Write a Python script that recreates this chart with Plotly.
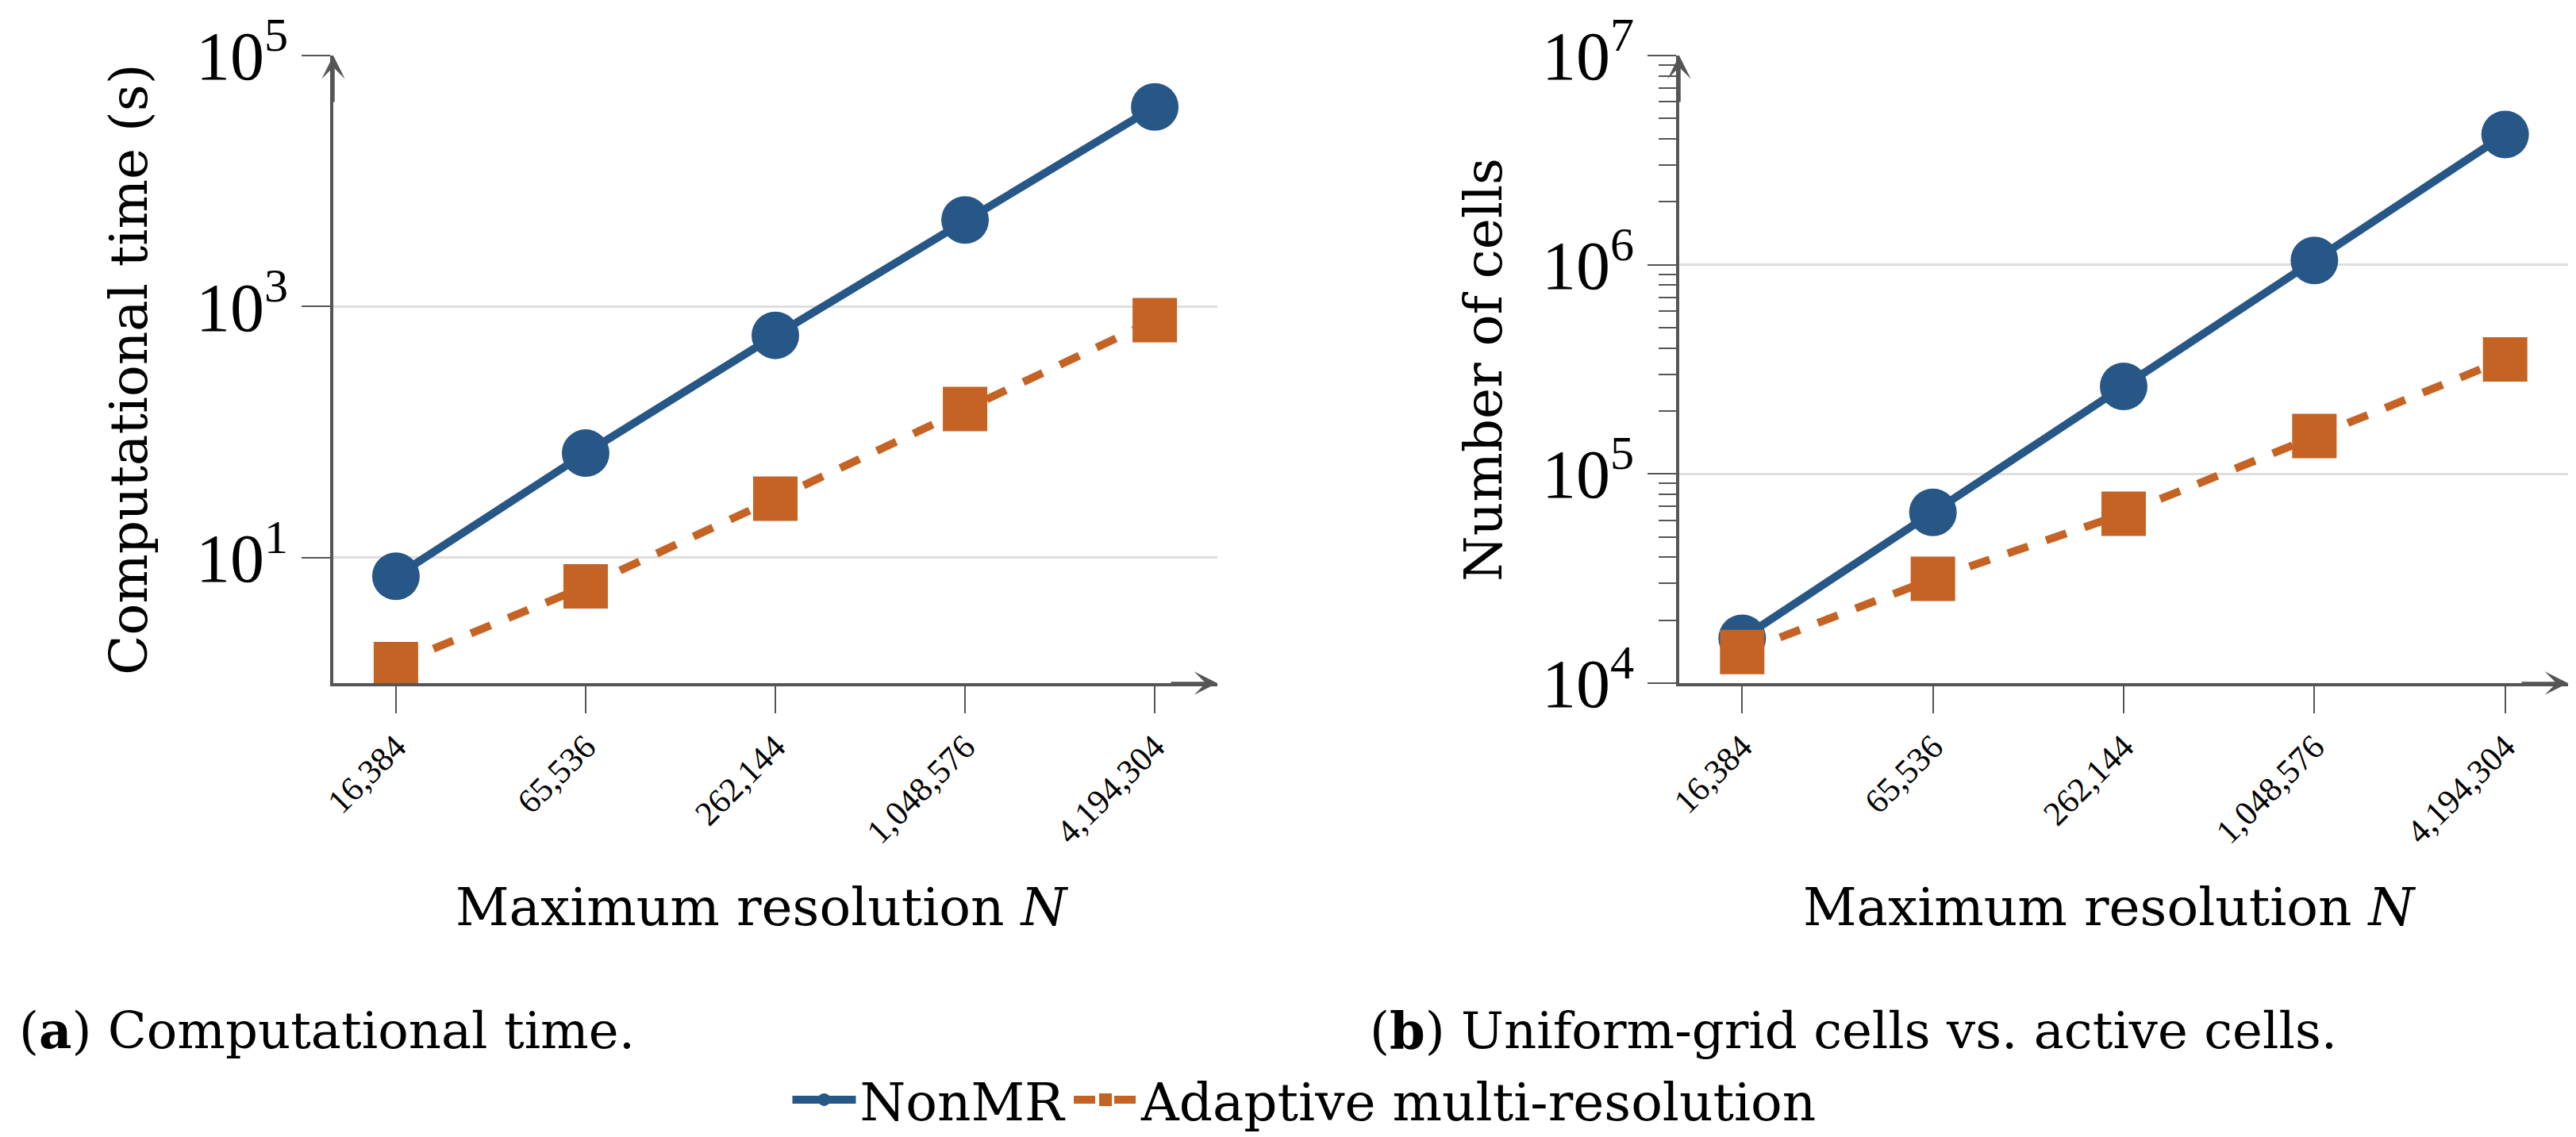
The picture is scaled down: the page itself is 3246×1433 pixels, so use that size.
import plotly.graph_objects as go

# ---------------- data ----------------
N_LABELS = ["16,384", "65,536", "262,144", "1,048,576", "4,194,304"]
TIME_NONMR = [7.1, 68, 590, 4900, 39000]
TIME_ADAPTIVE = [1.42, 5.9, 29.5, 153, 780]
CELLS_NONMR = [16384, 65536, 262144, 1048576, 4194304]
CELLS_ADAPTIVE = [14100, 31500, 64500, 152000, 353000]
SERIES_NAMES = ["NonMR", "Adaptive multi-resolution"]
TIME_TICKVALS = [10, 1000, 100000]
TIME_TICKTEXT = ["10<sup>1</sup>", "10<sup>3</sup>", "10<sup>5</sup>"]
CELLS_TICKVALS = [1e4, 1e5, 1e6, 1e7]
CELLS_TICKTEXT = ["10<sup>4</sup>", "10<sup>5</sup>", "10<sup>6</sup>", "10<sup>7</sup>"]

# ---------------- style ----------------
BLUE = "#275787"
ORANGE = "#C46323"
AXIS = "#555555"
GRID = "#DEDEDE"
TEXT_FONT = "DejaVu Serif"
NUM_FONT = "Liberation Serif"
W, H = 3246, 1433

fig = go.Figure()


def add_series(xa, ya, y_nonmr, y_adapt, show):
    fig.add_trace(go.Scatter(
        x=N_LABELS, y=y_nonmr, name=SERIES_NAMES[0], xaxis=xa, yaxis=ya,
        mode="lines+markers", showlegend=show, legendgroup="a",
        line=dict(color=BLUE, width=10),
        marker=dict(symbol="circle", size=60, color=BLUE),
    ))
    fig.add_trace(go.Scatter(
        x=N_LABELS, y=y_adapt, name=SERIES_NAMES[1], xaxis=xa, yaxis=ya,
        mode="lines+markers", showlegend=show, legendgroup="b",
        line=dict(color=ORANGE, width=10, dash="27px,24px"),
        marker=dict(symbol="square", size=56, color=ORANGE),
    ))


add_series("x", "y", TIME_NONMR, TIME_ADAPTIVE, True)
add_series("x2", "y2", CELLS_NONMR, CELLS_ADAPTIVE, False)

xcommon = dict(
    type="category", categoryorder="array", categoryarray=N_LABELS,
    range=[-0.33, 4.33], showline=True, linecolor=AXIS, linewidth=3.5,
    ticks="outside", ticklen=34, tickwidth=2, tickcolor=AXIS,
    tickangle=-45, tickfont=dict(family=NUM_FONT, size=43, color="black"),
    showgrid=False, zeroline=False, automargin=False,
)
ycommon = dict(
    type="log", showline=True, linecolor=AXIS, linewidth=3.5,
    ticks="outside", ticklen=36, tickwidth=2, tickcolor=AXIS,
    tickmode="array",
    tickfont=dict(family=NUM_FONT, size=86, color="black"),
    showgrid=True, gridcolor=GRID, gridwidth=2.5, zeroline=False,
    automargin=False,
)

ybot = 1 - 853 / H
ytop = 1 - 62 / H

fig.update_layout(
    width=W, height=H,
    margin=dict(l=0, r=0, t=0, b=0),
    paper_bgcolor="white", plot_bgcolor="white",
    font=dict(family=TEXT_FONT, color="black"),
    xaxis=dict(domain=[412 / W, 1526 / W], anchor="y", **xcommon),
    xaxis2=dict(domain=[2108 / W, 3228 / W], anchor="y2", **xcommon),
    yaxis=dict(domain=[ybot, ytop], anchor="x", range=[0, 5],
               tickvals=TIME_TICKVALS, ticktext=TIME_TICKTEXT, **ycommon),
    yaxis2=dict(domain=[ybot, ytop], anchor="x2", range=[4, 7],
                tickvals=CELLS_TICKVALS, ticktext=CELLS_TICKTEXT,
                minor=dict(ticks="outside", ticklen=22, tickwidth=2, tickcolor=AXIS,
                           dtick="D1", showgrid=False),
                **ycommon),
    legend=dict(
        orientation="h", x=0.504, y=1 - 1378 / H, xanchor="center", yanchor="middle",
        font=dict(family=TEXT_FONT, size=66, color="black"),
        itemsizing="trace", itemwidth=80, bgcolor="rgba(0,0,0,0)",
    ),
)

annotations = []
# axis arrows
for xr, yr in (("x", "y"), ("x2", "y2")):
    annotations.append(dict(
        xref=f"{xr} domain", yref=f"{yr} domain", x=1, y=0, ax=-60, ay=0,
        axref="pixel", ayref="pixel", text="", showarrow=True,
        arrowhead=3, arrowsize=1.4, arrowwidth=3.5, arrowcolor=AXIS,
    ))
    annotations.append(dict(
        xref=f"{xr} domain", yref=f"{yr} domain", x=0, y=1, ax=0, ay=60,
        axref="pixel", ayref="pixel", text="", showarrow=True,
        arrowhead=3, arrowsize=1.4, arrowwidth=3.5, arrowcolor=AXIS,
    ))

TITLE_SIZE = 66
CAP_SIZE = 64
annotations += [
    dict(text="Computational time (s)", xref="paper", yref="paper",
         x=155 / W, y=1 - 458 / H, textangle=-90, showarrow=False,
         font=dict(family=TEXT_FONT, size=TITLE_SIZE), xanchor="center", yanchor="middle"),
    dict(text="Number of cells", xref="paper", yref="paper",
         x=1862 / W, y=1 - 458 / H, textangle=-90, showarrow=False,
         font=dict(family=TEXT_FONT, size=TITLE_SIZE), xanchor="center", yanchor="middle"),
    dict(text="Maximum resolution <i>N</i>", xref="paper", yref="paper",
         x=952 / W, y=1 - 1135 / H, showarrow=False,
         font=dict(family=TEXT_FONT, size=TITLE_SIZE), xanchor="center", yanchor="middle"),
    dict(text="Maximum resolution <i>N</i>", xref="paper", yref="paper",
         x=2650 / W, y=1 - 1135 / H, showarrow=False,
         font=dict(family=TEXT_FONT, size=TITLE_SIZE), xanchor="center", yanchor="middle"),
    dict(text="(<b>a</b>) Computational time.", xref="paper", yref="paper",
         x=14 / W, y=1 - 1290 / H, showarrow=False,
         font=dict(family=TEXT_FONT, size=CAP_SIZE), xanchor="left", yanchor="middle"),
    dict(text="(<b>b</b>) Uniform-grid cells vs. active cells.", xref="paper", yref="paper",
         x=1716 / W, y=1 - 1290 / H, showarrow=False,
         font=dict(family=TEXT_FONT, size=CAP_SIZE), xanchor="left", yanchor="middle"),
]
fig.update_layout(annotations=annotations)

fig.write_html("out.html")
